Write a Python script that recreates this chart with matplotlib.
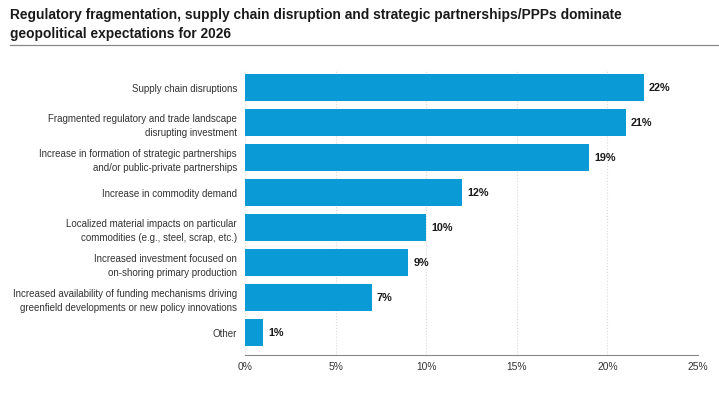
import matplotlib.pyplot as plt
import numpy as np

plt.rcParams['font.family'] = ['Liberation Sans', 'DejaVu Sans']

categories = [
    "Supply chain disruptions",
    "Fragmented regulatory and trade landscape\ndisrupting investment",
    "Increase in formation of strategic partnerships\nand/or public-private partnerships",
    "Increase in commodity demand",
    "Localized material impacts on particular\ncommodities (e.g., steel, scrap, etc.)",
    "Increased investment focused on\non-shoring primary production",
    "Increased availability of funding mechanisms driving\ngreenfield developments or new policy innovations",
    "Other",
]
values = [22, 21, 19, 12, 10, 9, 7, 1]
ticks = [0, 5, 10, 15, 20, 25]
title = ("Regulatory fragmentation, supply chain disruption and strategic partnerships/PPPs dominate\n"
         "geopolitical expectations for 2026")

fig = plt.figure(figsize=(7.19, 3.98), dpi=100)
ax = fig.add_axes([245 / 719, 1 - 355 / 398, 453 / 719, 285 / 398])

y = np.arange(len(categories))
ax.barh(y, values, height=0.77, color='#0a9ad5', zorder=3)
for yi, v in zip(y, values):
    ax.text(v + 0.28, yi, f"{v}%", va='center', ha='left', fontsize=7.8,
            fontweight='bold', color='#1a1a1a')

ax.set_xlim(0, 25)
ax.set_ylim(7.63, -0.51)
ax.set_yticks(y)
ax.set_yticklabels(categories, fontsize=7.05, color='#333333', linespacing=1.5)
ax.set_xticks(ticks)
ax.set_xticklabels([f"{t}%" for t in ticks], fontsize=7.4, color='#333333')
ax.tick_params(axis='both', length=0)
ax.tick_params(axis='y', pad=5.8)
ax.tick_params(axis='x', pad=5)
ax.grid(axis='x', color='#d9d9d9', linestyle=':', linewidth=0.8, zorder=0)
for s in ['top', 'right', 'left']:
    ax.spines[s].set_visible(False)
ax.spines['bottom'].set_color('#888888')
ax.spines['bottom'].set_linewidth(0.8)

fig.text(10 / 719, 1 - 8 / 398, title, ha='left', va='top', fontsize=9.9,
         fontweight='bold', color='#1a1a1a', linespacing=1.45)
fig.add_artist(plt.Line2D([10 / 719, 1.0], [1 - 45 / 398] * 2, color='#888888',
                          linewidth=0.9))

fig.savefig('out.png', dpi=100)
